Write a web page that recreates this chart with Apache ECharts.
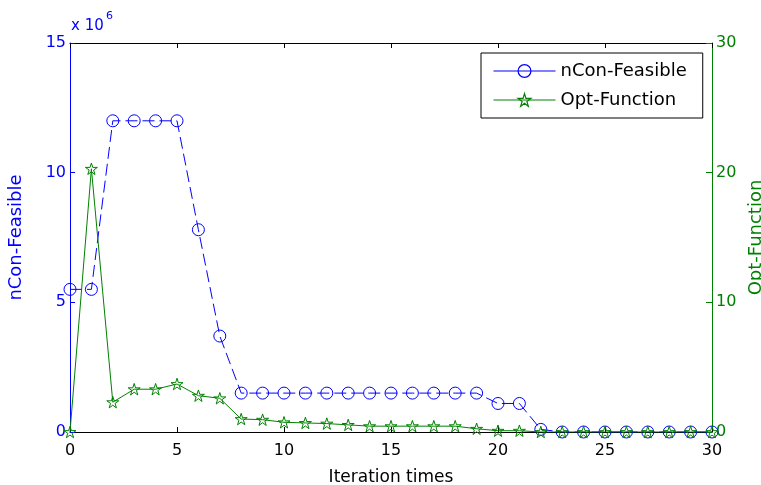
<!DOCTYPE html>
<html>
<head>
<meta charset="utf-8">
<script src="https://cdn.jsdelivr.net/npm/echarts@6/dist/echarts.min.js"></script>
<style>
html,body{margin:0;padding:0;background:#fff;}
#chart{width:761px;height:485px;}
</style>
</head>
<body>
<div id="chart"></div>
<script>
// Iteration index 0..30
const iterations = [0,1,2,3,4,5,6,7,8,9,10,11,12,13,14,15,16,17,18,19,20,21,22,23,24,25,26,27,28,29,30];
// nCon-Feasible, in units of 1e6 (left axis "x 10^6")
const nConFeasible = [5.5,5.5,12,12,12,12,7.8,3.7,1.5,1.5,1.5,1.5,1.5,1.5,1.5,1.5,1.5,1.5,1.5,1.5,1.1,1.1,0.1,0,0,0,0,0,0,0,0];
// Opt-Function (right axis)
const optFunction = [0,20.3,2.3,3.3,3.3,3.7,2.8,2.6,1.0,0.95,0.75,0.7,0.65,0.55,0.45,0.45,0.45,0.45,0.45,0.25,0.1,0.1,0,0,0,0,0,0,0,0,0];
const leftTicks = [0,5,10,15];
const rightTicks = [0,10,20,30];
const xTicks = [0,5,10,15,20,25,30];

const BLUE = '#0000ff';
const GREEN = '#008000';
const FONT = 'DejaVu Sans';
const STAR = 'path://M50,2 L61,37 L98,37 L68,58 L79,94 L50,72 L21,94 L32,58 L2,37 L39,37 Z';
const CLEAR = 'rgba(0,0,0,0)';

const chart = echarts.init(document.getElementById('chart'));
chart.setOption({
  animation: false,
  backgroundColor: '#fff',
  grid: {left: 70, right: 49, top: 43, bottom: 53, containLabel: false, outerBoundsMode: 'none'},
  graphic: [
    {type: 'text', left: 71, top: 19, style: {text: 'x 10', fill: BLUE, font: '15px "DejaVu Sans"'}},
    {type: 'text', left: 106, top: 11, style: {text: '6', fill: BLUE, font: '11px "DejaVu Sans"'}}
  ],
  legend: {
    orient: 'vertical',
    left: 481, top: 53,
    padding: [9, 16, 9, 12],
    itemWidth: 62, itemHeight: 16, itemGap: 11,
    backgroundColor: '#fff',
    borderColor: '#000', borderWidth: 1,
    textStyle: {fontFamily: FONT, fontSize: 18, color: '#000'},
    data: [
      {name: 'nCon-Feasible', lineStyle: {type: 'solid', width: 1, color: BLUE},
       itemStyle: {color: CLEAR, borderColor: BLUE, borderWidth: 1.2}},
      {name: 'Opt-Function', lineStyle: {type: 'solid', width: 1, color: GREEN},
       itemStyle: {color: CLEAR, borderColor: GREEN, borderWidth: 1.2}}
    ]
  },
  xAxis: [
    {
      type: 'value', min: 0, max: 30, interval: 5, position: 'bottom',
      name: 'Iteration times', nameLocation: 'middle', nameGap: 37,
      nameTextStyle: {fontFamily: FONT, fontSize: 17, color: '#000'},
      axisLine: {show: true, onZero: false, lineStyle: {color: '#000', width: 1}},
      axisTick: {show: true, inside: true, length: 5, lineStyle: {color: '#000'}},
      axisLabel: {margin: 11, fontFamily: FONT, fontSize: 16, color: '#000',
        customValues: xTicks},
      splitLine: {show: false}
    },
    {
      type: 'value', min: 0, max: 30, interval: 5, position: 'top',
      axisLine: {show: true, onZero: false, lineStyle: {color: '#000', width: 1}},
      axisTick: {show: true, inside: true, length: 5, lineStyle: {color: '#000'}},
      axisLabel: {show: false},
      splitLine: {show: false}
    }
  ],
  yAxis: [
    {
      type: 'value', min: 0, max: 15, interval: 5, position: 'left',
      name: 'nCon-Feasible', nameLocation: 'middle', nameGap: 45, nameRotate: 90,
      nameTextStyle: {fontFamily: FONT, fontSize: 18, color: BLUE},
      axisLine: {show: true, onZero: false, lineStyle: {color: BLUE, width: 1}},
      axisTick: {show: true, inside: true, length: 5, lineStyle: {color: BLUE}},
      axisLabel: {margin: 4, fontFamily: FONT, fontSize: 16, color: BLUE, customValues: leftTicks},
      splitLine: {show: false}
    },
    {
      type: 'value', min: 0, max: 30, interval: 10, position: 'right',
      name: 'Opt-Function', nameLocation: 'middle', nameGap: 30, nameRotate: 90,
      nameTextStyle: {fontFamily: FONT, fontSize: 18, color: GREEN},
      axisLine: {show: true, onZero: false, lineStyle: {color: GREEN, width: 1}},
      axisTick: {show: true, inside: true, length: 6, lineStyle: {color: GREEN}},
      axisLabel: {margin: 4, fontFamily: FONT, fontSize: 16, color: GREEN, customValues: rightTicks},
      splitLine: {show: false}
    }
  ],
  series: [
    {
      name: 'nCon-Feasible', type: 'line', xAxisIndex: 0, yAxisIndex: 0,
      data: iterations.map((x, i) => [x, nConFeasible[i]]),
      symbol: 'circle', symbolSize: 12, showAllSymbol: true,
      lineStyle: {color: BLUE, width: 1, type: [12, 5]},
      itemStyle: {color: CLEAR, borderColor: BLUE, borderWidth: 1},
      z: 2
    },
    {
      name: 'Opt-Function', type: 'line', xAxisIndex: 0, yAxisIndex: 1,
      data: iterations.map((x, i) => [x, optFunction[i]]),
      symbol: STAR, symbolSize: 12, symbolKeepAspect: true, showAllSymbol: true,
      lineStyle: {color: GREEN, width: 1},
      itemStyle: {color: CLEAR, borderColor: GREEN, borderWidth: 1},
      z: 3
    }
  ]
});
</script>
</body>
</html>
